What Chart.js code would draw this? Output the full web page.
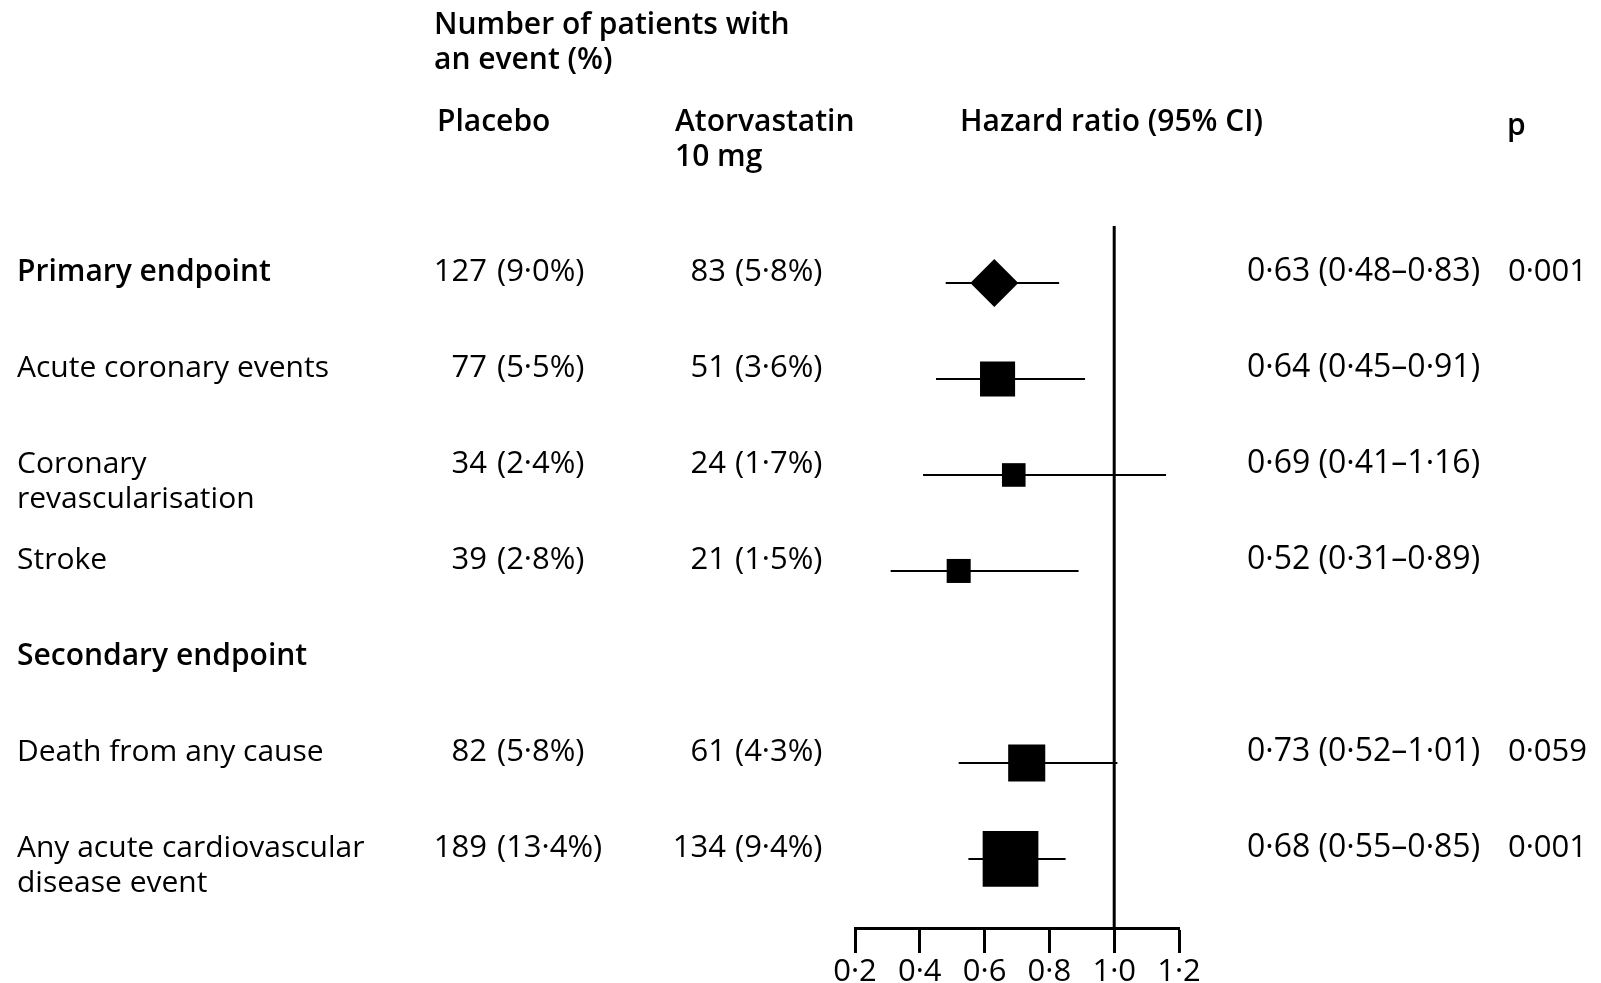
<!DOCTYPE html>
<html>
<head>
<meta charset="utf-8">
<script src="https://cdn.jsdelivr.net/npm/chart.js@4.4.1/dist/chart.umd.min.js"></script>
<style>
  html, body { margin: 0; padding: 0; background: #fff; }
  #forest { display: block; }
</style>
</head>
<body>
<canvas id="forest" width="1601" height="983"></canvas>
<script>
// rows, top to bottom
const outcomes = [
    "Primary endpoint",
    "Acute coronary events",
    ["Coronary", "revascularisation"],
    "Stroke",
    "Secondary endpoint",
    "Death from any cause",
    ["Any acute cardiovascular", "disease event"]
];
const headingRows = ["Primary endpoint", "Secondary endpoint"];

const placeboEvents = [127, 77, 34, 39, null, 82, 189];
const placeboPct = [9.0, 5.5, 2.4, 2.8, null, 5.8, 13.4];
const atorvaEvents = [83, 51, 24, 21, null, 61, 134];
const atorvaPct = [5.8, 3.6, 1.7, 1.5, null, 4.3, 9.4];

const hazardRatio = [0.63, 0.64, 0.69, 0.52, null, 0.73, 0.68];
const ciLower = [0.48, 0.45, 0.41, 0.31, null, 0.52, 0.55];
const ciUpper = [0.83, 0.91, 1.16, 0.89, null, 1.01, 0.85];
const pValues = [0.001, null, null, null, null, 0.059, 0.001];

const xTicks = [0.2, 0.4, 0.6, 0.8, 1.0, 1.2];

const FONT = "'Open Sans', 'Noto Sans', sans-serif";

// 0.63 -> "0·63"
function dot(v, digits) {
    return v.toFixed(digits).replace(".", "\u00B7");
}

function drawText(ctx, str, x, y, size, weight, align) {
    ctx.font = (weight || "normal") + " " + size + "px " + FONT;
    ctx.textAlign = align || "left";
    ctx.textBaseline = "alphabetic";
    ctx.fillText(str, x, y);
}

//CI WHISKERS + LINE OF NO EFFECT
const whiskers = {
    id: "whiskers",
    beforeDatasetsDraw(chart) {
        const ctx = chart.ctx;
        const xs = chart.scales.x, ys = chart.scales.y;
        const area = chart.chartArea;
        ctx.save();
        ctx.strokeStyle = "#000";

        ctx.lineWidth = 3;
        let x1 = xs.getPixelForValue(1.0);
        ctx.beginPath();
        ctx.moveTo(x1, area.top);
        ctx.lineTo(x1, area.bottom);
        ctx.stroke();

        ctx.lineWidth = 2;
        hazardRatio.forEach((hr, i) => {
            if (hr == null) return;
            let y = ys.getPixelForValue(i);
            ctx.beginPath();
            ctx.moveTo(xs.getPixelForValue(ciLower[i]), y);
            ctx.lineTo(xs.getPixelForValue(ciUpper[i]), y);
            ctx.stroke();
        });
        ctx.restore();
    }
};

//TABLE TEXT
const table = {
    id: "table",
    afterDraw(chart) {
        const ctx = chart.ctx;
        const ys = chart.scales.y;
        ctx.save();
        ctx.fillStyle = "#000";

        // headers
        drawText(ctx, "Number of patients with", 434, 34, 30, "600");
        drawText(ctx, "an event (%)", 434, 69, 30, "600");
        drawText(ctx, "Placebo", 437, 131, 30, "600");
        drawText(ctx, "Atorvastatin", 675, 131, 30, "600");
        drawText(ctx, "10 mg", 675, 166, 30, "600");
        drawText(ctx, "Hazard ratio (95% CI)", 960, 131, 30, "600");
        drawText(ctx, "p", 1507, 135, 30, "600");

        outcomes.forEach((label, i) => {
            let y = ys.getPixelForValue(i) - 2;
            let lines = Array.isArray(label) ? label : [label];
            let bold = headingRows.includes(lines[0]);
            lines.forEach((l, k) => drawText(ctx, l, 17, y + k * 35, 30, bold ? "600" : "normal"));

            if (placeboEvents[i] != null) {
                drawText(ctx, String(placeboEvents[i]), 487, y, 31, "normal", "right");
                drawText(ctx, "(" + dot(placeboPct[i], 1) + "%)", 497, y, 31);
                drawText(ctx, String(atorvaEvents[i]), 726, y, 31, "normal", "right");
                drawText(ctx, "(" + dot(atorvaPct[i], 1) + "%)", 735, y, 31);
            }
            if (hazardRatio[i] != null) {
                let s = dot(hazardRatio[i], 2) + " (" + dot(ciLower[i], 2) + "\u2013" + dot(ciUpper[i], 2) + ")";
                drawText(ctx, s, 1247, y, 32);
            }
            if (pValues[i] != null) {
                drawText(ctx, dot(pValues[i], 3), 1508, y, 31);
            }
        });
        ctx.restore();
    }
};

//MARKERS (y = row index)
let points = hazardRatio
    .map((v, i) => v == null ? null : { x: v, y: i })
    .filter(p => p);

// box side grows with sqrt of total events, primary endpoint is a diamond
function markerRadius(c) {
    let i = c.raw ? c.raw.y : 1;
    if (i === 0) return 24;
    let side = 3.1 * Math.sqrt(placeboEvents[i] + atorvaEvents[i]);
    return side / Math.SQRT2;
}

let forestChart = new Chart(document.getElementById("forest"), {
    type: "scatter",
    data: {
        datasets: [{
            data: points,
            backgroundColor: "#000",
            borderWidth: 0,
            pointStyle: c => (c.raw && c.raw.y === 0) ? "rectRot" : "rect",
            pointRadius: markerRadius,
            pointHoverRadius: markerRadius,
            clip: false
        }]
    },
    options: {
        responsive: false,
        animation: false,
        events: [],
        layout: { padding: { left: 855, right: 422, top: 226, bottom: 0 } },
        plugins: { legend: { display: false }, tooltip: { enabled: false } },
        scales: {
            x: {
                type: "linear",
                min: 0.2,
                max: 1.2,
                afterBuildTicks: s => { s.ticks = xTicks.map(v => ({ value: v })); },
                afterFit: s => { s.height = 55; },
                border: { display: true, color: "#000", width: 3 },
                grid: {
                    drawOnChartArea: false,
                    drawTicks: true,
                    tickLength: 25,
                    tickWidth: 3,
                    tickColor: "#000"
                },
                ticks: {
                    color: "#000",
                    padding: 4,
                    maxRotation: 0,
                    font: { family: FONT, size: 31, lineHeight: 1 },
                    callback: v => dot(v, 1)
                }
            },
            y: {
                type: "linear",
                reverse: true,
                min: -0.594,
                max: 6.72,
                display: false
            }
        }
    },
    plugins: [whiskers, table]
});
</script>
</body>
</html>
